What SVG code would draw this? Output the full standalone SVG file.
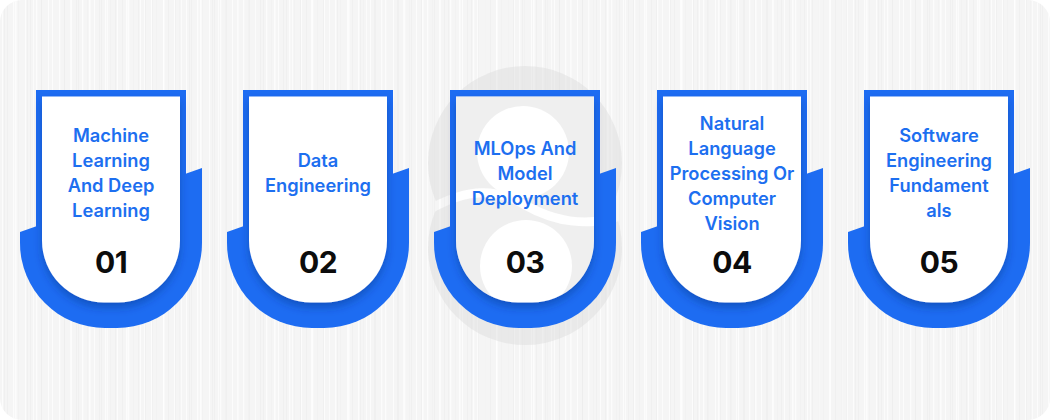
<svg xmlns="http://www.w3.org/2000/svg" xmlns:xlink="http://www.w3.org/1999/xlink" width="1050" height="420" viewBox="0 0 1050 420">
  <defs>
    <style>
      .title { font-family: Inter, "Noto Sans", "Liberation Sans", sans-serif; font-weight: 600; font-size: 18.3px; fill: #1d6ff0; text-anchor: middle; }
      .num { font-family: Inter, "Noto Sans", "Liberation Sans", sans-serif; font-weight: 700; font-size: 30px; fill: #0c0c0c; text-anchor: middle; letter-spacing: -0.5px; }
      .blue { fill: #1d6cf2; }
      .white { fill: #ffffff; }
    </style>
    <pattern id="streakA" width="23" height="420" patternUnits="userSpaceOnUse">
      <rect x="2" y="0" width="0.8" height="420" fill="#ffffff" opacity="0.9"/>
      <rect x="7" y="0" width="0.5" height="420" fill="#eaeaea"/>
      <rect x="13" y="0" width="1.2" height="420" fill="#fcfcfc"/>
      <rect x="18" y="0" width="0.4" height="420" fill="#ececec"/>
    </pattern>
    <pattern id="streakB" width="37" height="420" patternUnits="userSpaceOnUse">
      <rect x="4" y="0" width="0.4" height="420" fill="#e8e8e8"/>
      <rect x="15" y="0" width="1.5" height="420" fill="#ffffff" opacity="0.7"/>
      <rect x="27" y="0" width="0.5" height="420" fill="#ebebeb"/>
      <rect x="33" y="0" width="1" height="420" fill="#fbfbfb"/>
    </pattern>
    <clipPath id="bgclip">
      <rect x="0" y="0" width="1050" height="420" rx="22" ry="22"/>
    </clipPath>
    <filter id="shadow" x="-30%" y="-20%" width="160%" height="150%">
      <feDropShadow dx="0" dy="5" stdDeviation="4" flood-color="#0a2f7a" flood-opacity="0.4"/>
    </filter>
    <path id="ushape" d="M20,232 L202,168 L202,243 A85,85 0 0 1 117,328 L105,328 A85,85 0 0 1 20,243 Z"/>
    <rect id="toprect" x="36" y="90" width="150" height="160"/>
    <path id="whitecard" d="M42,96.5 H180 V240.5 A62,62 0 0 1 118,302.5 H104 A62,62 0 0 1 42,240.5 Z"/>
    <mask id="wmmask" maskUnits="userSpaceOnUse" x="0" y="0" width="1050" height="420">
      <rect x="0" y="0" width="1050" height="420" fill="#fff"/>
      <circle cx="523" cy="152" r="46" fill="#000"/>
      <circle cx="526" cy="266" r="46" fill="#000"/>
      <path d="M425,212 C470,185 500,190 525,205 C555,222 590,228 625,214" fill="none" stroke="#000" stroke-width="9"/>
    </mask>
    <g id="watermark" mask="url(#wmmask)">
      <g opacity="0.45">
        <circle cx="525" cy="163" r="97" fill="#dcdcdc"/>
        <circle cx="525" cy="248" r="97" fill="#dcdcdc"/>
      </g>
    </g>
    <clipPath id="c3clip">
      <use xlink:href="#whitecard" href="#whitecard" transform="translate(414,0)"/>
    </clipPath>
  </defs>

  <g id="background" clip-path="url(#bgclip)">
    <rect x="0" y="0" width="1050" height="420" fill="#f5f5f5"/>
    <rect x="0" y="0" width="1050" height="420" fill="url(#streakA)"/>
    <rect x="0" y="0" width="1050" height="420" fill="url(#streakB)"/>
    <use xlink:href="#watermark" href="#watermark"/>
  </g>

  <g id="connectors"></g>

  <g id="card-01" transform="translate(0,0)">
    <use xlink:href="#ushape" href="#ushape" class="blue"/>
    <use xlink:href="#toprect" href="#toprect" class="blue"/>
    <use xlink:href="#whitecard" href="#whitecard" class="white" filter="url(#shadow)"/>
    <text class="title" x="111" y="142.2">Machine</text>
    <text class="title" x="111" y="167.2">Learning</text>
    <text class="title" x="111" y="192.2">And Deep</text>
    <text class="title" x="111" y="217.2">Learning</text>
    <text class="num" x="111" y="272.7">01</text>
  </g>

  <g id="card-02" transform="translate(207,0)">
    <use xlink:href="#ushape" href="#ushape" class="blue"/>
    <use xlink:href="#toprect" href="#toprect" class="blue"/>
    <use xlink:href="#whitecard" href="#whitecard" class="white" filter="url(#shadow)"/>
    <text class="title" x="111" y="167.2">Data</text>
    <text class="title" x="111" y="192.2">Engineering</text>
    <text class="num" x="111" y="272.7">02</text>
  </g>

  <g id="card-03">
    <g transform="translate(414,0)">
      <use xlink:href="#ushape" href="#ushape" class="blue"/>
      <use xlink:href="#toprect" href="#toprect" class="blue"/>
      <use xlink:href="#whitecard" href="#whitecard" class="white" filter="url(#shadow)"/>
    </g>
    <g clip-path="url(#c3clip)">
      <use xlink:href="#watermark" href="#watermark"/>
    </g>
    <g transform="translate(414,0)">
      <text class="title" x="111" y="154.7">MLOps And</text>
      <text class="title" x="111" y="179.7">Model</text>
      <text class="title" x="111" y="204.7">Deployment</text>
      <text class="num" x="111" y="272.7">03</text>
    </g>
  </g>

  <g id="card-04" transform="translate(621,0)">
    <use xlink:href="#ushape" href="#ushape" class="blue"/>
    <use xlink:href="#toprect" href="#toprect" class="blue"/>
    <use xlink:href="#whitecard" href="#whitecard" class="white" filter="url(#shadow)"/>
    <text class="title" x="111" y="129.7">Natural</text>
    <text class="title" x="111" y="154.7">Language</text>
    <text class="title" x="111" y="179.7">Processing Or</text>
    <text class="title" x="111" y="204.7">Computer</text>
    <text class="title" x="111" y="229.7">Vision</text>
    <text class="num" x="111" y="272.7">04</text>
  </g>

  <g id="card-05" transform="translate(828,0)">
    <use xlink:href="#ushape" href="#ushape" class="blue"/>
    <use xlink:href="#toprect" href="#toprect" class="blue"/>
    <use xlink:href="#whitecard" href="#whitecard" class="white" filter="url(#shadow)"/>
    <text class="title" x="111" y="142.2">Software</text>
    <text class="title" x="111" y="167.2">Engineering</text>
    <text class="title" x="111" y="192.2">Fundament</text>
    <text class="title" x="111" y="217.2">als</text>
    <text class="num" x="111" y="272.7">05</text>
  </g>
</svg>
